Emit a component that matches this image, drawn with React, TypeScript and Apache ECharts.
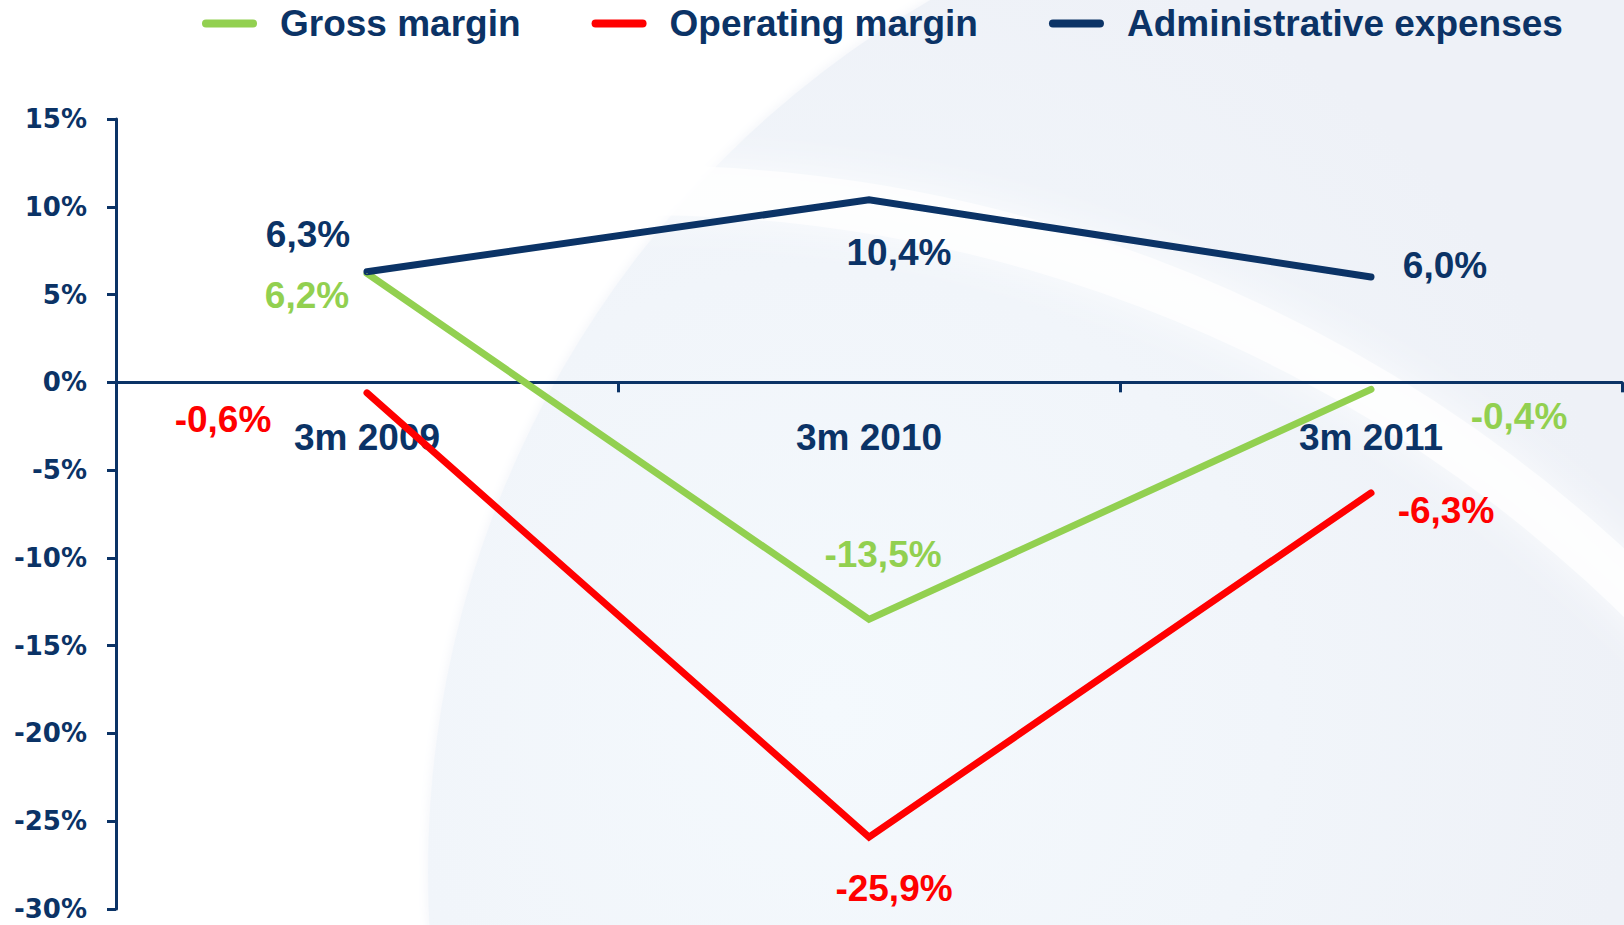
import React, { useEffect, useRef } from "react";
import * as echarts from "echarts";

const categories = ["3m 2009", "3m 2010", "3m 2011"];
const grossMargin = [6.2, -13.5, -0.4];
const operatingMargin = [-0.6, -25.9, -6.3];
const adminExpenses = [6.3, 10.4, 6.0];
const yMin = -30;
const yMax = 15;
const yStep = 5;

const NAVY = "#0b3366";
const GREEN = "#92d050";
const RED = "#ff0000";

// label offsets (pixels) relative to each point
const adminOffsets = [[-59, -37], [30, 53], [74, -12]];
const grossOffsets = [[-60, 22], [14, -65], [148, 27]];
const operatingOffsets = [[-144, 27], [25, 51], [75, 18]];

const labelFont = "'Liberation Sans', Arial, sans-serif";

const GRID_TOP = 119;
const GRID_BOTTOM = 16;
const CHART_H = 925;

function fmt(v: number) {
  return v.toFixed(1).replace(".", ",") + "%";
}

function buildSeries(name: string, values: number[], color: string, offsets: number[][]) {
  return {
    name,
    type: "line",
    data: values.map((v, i) => ({
      value: v,
      label: { offset: offsets[i] },
    })),
    symbol: "circle",
    symbolSize: 1,
    showSymbol: true,
    itemStyle: { color },
    lineStyle: { color, width: 7, cap: "round", join: "miter" },
    label: {
      show: true,
      position: "inside",
      align: "center",
      verticalAlign: "middle",
      color,
      fontFamily: labelFont,
      fontWeight: "bold",
      fontSize: 37,
      formatter: (p: any) => fmt(p.value),
    },
    z: 3,
  };
}

export default function App() {
  const ref = useRef<HTMLDivElement>(null);
  useEffect(() => {
    if (!ref.current) return;
    const chart = echarts.init(ref.current, null, { renderer: "svg" });
    const gridH = CHART_H - GRID_TOP - GRID_BOTTOM;
    const zeroOffset = -(gridH * (0 - yMin)) / (yMax - yMin);
    chart.setOption({
      animation: false,
      backgroundColor: "#ffffff",
      graphic: [
        {
          type: "circle",
          z: -10,
          silent: true,
          shape: { cx: 1436, cy: 872, r: 1008 },
          style: {
            fill: {
              type: "radial",
              x: 0.2,
              y: 0.42,
              r: 0.4,
              colorStops: [
                { offset: 0, color: "#f4f9fd" },
                { offset: 0.55, color: "#f1f5fa" },
                { offset: 1, color: "#eef1f7" },
              ],
            },
            shadowBlur: 12,
            shadowColor: "rgba(238,241,247,0.9)",
          },
        },
        {
          type: "arc",
          z: -9,
          silent: true,
          shape: { cx: 640, cy: 1620, r: 1430, startAngle: -1.7, endAngle: -0.55, clockwise: true },
          style: {
            stroke: "rgba(255,255,255,0.75)",
            lineWidth: 50,
            fill: null,
            shadowBlur: 40,
            shadowColor: "#ffffff",
          },
        },
      ],
      legend: {
        left: 197,
        top: 0,
        icon: "path://M4,0L51,0A4,4,0,0,1,51,8L4,8A4,4,0,0,1,4,0Z",
        itemWidth: 55,
        itemHeight: 8,
        itemGap: 71,
        textStyle: {
          color: NAVY,
          fontFamily: labelFont,
          fontWeight: "bold",
          fontSize: 37,
          padding: [0, 0, 0, 18],
        },
        data: ["Gross margin", "Operating margin", "Administrative expenses"],
      },
      grid: {
        left: 116,
        right: 2,
        top: GRID_TOP,
        bottom: GRID_BOTTOM,
        containLabel: false,
        outerBoundsMode: "none",
      },
      xAxis: {
        type: "category",
        data: categories,
        boundaryGap: true,
        offset: zeroOffset,
        axisLine: { onZero: false, lineStyle: { color: NAVY, width: 3 } },
        axisTick: { show: true, length: 10, lineStyle: { color: NAVY, width: 3 } },
        axisLabel: {
          margin: 37,
          color: NAVY,
          fontFamily: labelFont,
          fontWeight: "bold",
          fontSize: 37,
        },
        splitLine: { show: false },
      },
      yAxis: {
        type: "value",
        min: yMin,
        max: yMax,
        interval: yStep,
        axisLine: { show: true, lineStyle: { color: NAVY, width: 3 } },
        axisTick: { show: true, length: 9, lineStyle: { color: NAVY, width: 3 } },
        axisLabel: {
          margin: 29,
          color: NAVY,
          fontFamily: "'DejaVu Sans', Verdana, sans-serif",
          fontWeight: "bold",
          fontSize: 26,
          formatter: "{value}%",
        },
        splitLine: { show: false },
      },
      series: [
        buildSeries("Gross margin", grossMargin, GREEN, grossOffsets),
        buildSeries("Operating margin", operatingMargin, RED, operatingOffsets),
        buildSeries("Administrative expenses", adminExpenses, NAVY, adminOffsets),
      ],
    });
    return () => chart.dispose();
  }, []);
  return (
    <div
      ref={ref}
      style={{ position: "fixed", left: 0, top: 0, width: 1624, height: 925 }}
    />
  );
}
